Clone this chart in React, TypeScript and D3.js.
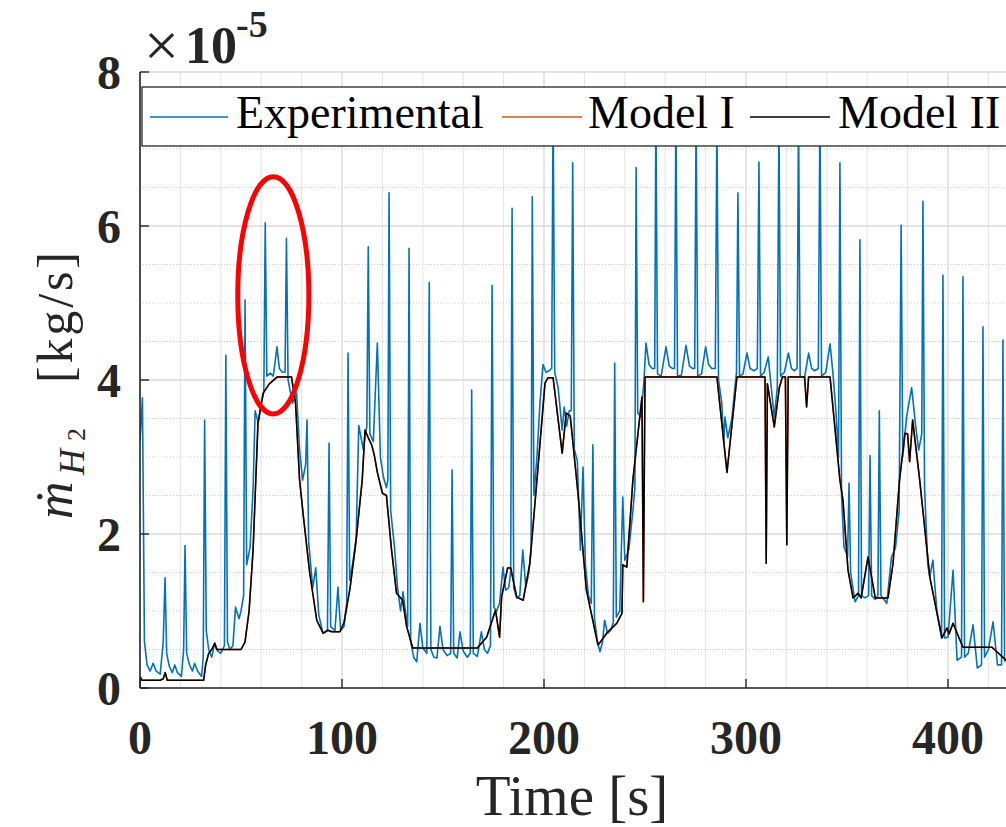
import React from 'react';
import * as d3 from 'd3';

// chart data (values in 1e-5 kg/s)
const xTicks = [0, 100, 200, 300, 400];
const yTicks = [0, 2, 4, 6, 8];
const legendLabels = ['Experimental', 'Model I', 'Model II'];
const seriesColors = ['#0072BD', '#D95319', '#000000'];

const experimental: [number, number][] = [
  [0, 3.2], [1.2, 3.77], [2.2, 0.6], [3.5, 0.3], [5, 0.22], [6.5, 0.32], [8, 0.22], [10, 0.18],
  [11.5, 0.6], [12.4, 1.43], [13.2, 0.45], [14.5, 0.28], [16, 0.2], [17.2, 0.3], [18.5, 0.2], [20.5, 0.15],
  [21.6, 0.5], [22.3, 1.85], [23.1, 0.45], [24.5, 0.3], [26, 0.22], [27, 0.32], [28.5, 0.22], [30.5, 0.15],
  [31.3, 0.4], [32, 3.48], [32.8, 0.75], [34, 0.5], [35.5, 0.4], [37, 0.58], [38.5, 0.48], [40, 0.45],
  [41.8, 0.55], [42.5, 4.32], [43.3, 0.6], [44.5, 0.5], [46, 0.55], [47.3, 1.05], [49, 0.9], [50, 1.0],
  [51.3, 1.2], [52, 5.04], [52.8, 1.6], [54.5, 1.83], [56, 2.6], [57, 3.6], [58.5, 3.44], [60, 3.7],
  [61.3, 3.85], [62, 6.04], [62.8, 4.05], [64.5, 4.09], [66, 4.05], [67.8, 4.43], [69, 4.15], [70.5, 4.1],
  [71.8, 4.1], [72.5, 5.84], [73.3, 4.0], [75.5, 3.7], [77.5, 3.83], [79, 3.1], [80.5, 2.7], [82, 2.9],
  [82.7, 3.48], [83.5, 1.9], [85.5, 1.3], [87, 1.56], [88.5, 0.95], [90.6, 0.71], [92.8, 0.75], [93.6, 3.18],
  [94.4, 0.8], [96.5, 0.74], [98, 1.31], [99.3, 0.75], [101, 0.8], [102.3, 1.1], [103, 4.35], [103.8, 1.4],
  [105.3, 1.62], [107, 1.95], [108.3, 3.41], [110.5, 3.1], [112.3, 3.4], [113, 5.73], [113.8, 3.3], [115.5, 3.2],
  [117.5, 4.48], [119, 3.0], [120.5, 2.74], [122, 2.6], [122.7, 2.7], [123.3, 6.43], [124.1, 2.3], [126, 1.83],
  [127.5, 1.3], [129, 1.0], [130.2, 1.25], [131.5, 0.97], [132.5, 0.8], [133.2, 5.71], [134, 0.6], [135.5, 0.4],
  [137, 0.34], [138.6, 0.84], [140, 0.52], [142, 0.45], [143.2, 5.27], [144, 0.5], [145.5, 0.4], [147, 0.39],
  [148.5, 0.8], [150, 0.5], [152, 0.42], [153.8, 0.45], [154.5, 2.83], [155.3, 0.45], [157, 0.39], [158.4, 0.73],
  [160, 0.48], [162, 0.4], [163.5, 0.45], [164.2, 3.87], [165, 0.45], [167, 0.41], [169, 0.73], [170.5, 0.5],
  [172, 0.45], [173.5, 0.55], [174.3, 5.23], [175.2, 1.05], [176.5, 1.0], [178, 1.1], [179.7, 1.57], [181, 1.27],
  [182.5, 1.3], [183.5, 1.5], [184.2, 6.23], [185, 1.3], [186.5, 1.17], [188, 1.2], [189.5, 1.79], [191, 1.31],
  [192.5, 1.5], [193.6, 1.8], [194.2, 6.38], [195, 2.5], [196.5, 3.0], [198, 3.7], [199.5, 4.2], [201, 4.1],
  [202.5, 4.12], [203.8, 4.15], [204.5, 7.5], [205.3, 4.1], [207, 3.9], [209, 3.35], [210, 3.65], [211.2, 3.4],
  [212.5, 3.6], [213.5, 3.6], [214.2, 6.82], [215, 3.1], [216.5, 2.95], [218, 1.79], [219.3, 2.87], [220.5, 1.6],
  [222, 1.2], [223.4, 1.1], [224.2, 3.16], [225, 0.9], [226.5, 0.6], [227.7, 0.47], [229, 0.6], [230, 0.88],
  [231.5, 0.71], [233, 0.75], [234.3, 0.85], [235, 4.22], [235.8, 0.92], [237.5, 1.0], [239, 2.48], [240, 1.66],
  [242, 1.8], [244, 2.3], [245, 2.6], [245.6, 6.76], [246.4, 3.57], [248, 3.52], [249.5, 4.0], [250.5, 4.48],
  [252, 4.2], [253.5, 4.15], [254.8, 4.15], [255.4, 7.5], [256.2, 4.08], [258, 4.05], [260.4, 4.43], [262, 4.18],
  [263.5, 4.15], [264.6, 4.15], [265.3, 7.45], [266.1, 4.05], [268, 4.06], [270.3, 4.45], [272, 4.18], [273.5, 4.15],
  [274.6, 4.15], [275.3, 7.5], [276.1, 4.05], [278, 4.08], [280, 4.43], [281.5, 4.2], [283, 4.15], [284.8, 4.15],
  [285.6, 7.4], [286.4, 4.0], [288, 3.7], [289, 3.19], [289.6, 3.52], [291, 3.25], [293, 3.5], [294.5, 3.9],
  [295.3, 4.1], [296, 6.43], [296.8, 4.05], [298.5, 4.08], [300.5, 4.35], [302, 4.15], [304, 4.12], [305.6, 4.15],
  [306.4, 6.83], [307.2, 4.05], [309, 4.1], [311, 4.3], [312.5, 3.9], [314, 3.52], [315.5, 3.9], [316.3, 7.4],
  [317.1, 4.05], [319, 4.1], [321, 4.35], [322.5, 4.15], [324, 4.12], [325.3, 4.15], [326, 7.5], [326.8, 4.05],
  [329, 4.03], [331, 4.35], [332.5, 4.15], [334, 4.12], [335.8, 4.15], [336.6, 7.45], [337.4, 4.05], [339.5, 4.1],
  [341.6, 4.47], [343, 4.1], [344.5, 3.6], [345.8, 3.0], [346.5, 6.82], [347.3, 2.5], [348.5, 1.83], [350.3, 1.7],
  [351, 2.66], [351.8, 1.5], [354, 1.12], [355.7, 1.2], [356.4, 5.82], [357.2, 1.2], [359, 1.17], [360.7, 1.2],
  [361.4, 3.02], [362.2, 1.2], [364, 1.15], [365.3, 1.2], [366, 3.6], [366.8, 1.2], [369.7, 1.1], [372, 1.7],
  [374, 1.82], [375.8, 2.3], [376.8, 6.01], [377.6, 3.0], [379.5, 3.52], [382, 3.9], [384, 3.4], [385.5, 3.09],
  [387, 3.3], [387.6, 6.32], [388.4, 2.6], [390, 1.6], [391, 1.44], [392.5, 1.66], [394.5, 1.0], [396.8, 0.65],
  [397.5, 5.36], [398.3, 0.65], [400, 0.66], [402.5, 1.53], [404.5, 0.36], [406.7, 0.4], [407.4, 5.34], [408.2, 0.4],
  [410, 0.45], [412.4, 0.82], [414.5, 0.26], [416.6, 0.3], [417.3, 4.69], [418.1, 0.4], [420, 0.5], [422.3, 0.86],
  [424.5, 0.3], [426.5, 0.3], [427.2, 4.52], [428, 0.35], [430, 0.35], [432, 0.4],
];

const modelII: [number, number][] = [
  [0, 0.15], [1, 0.1], [10, 0.1], [11.5, 0.12], [12.5, 0.2], [13.5, 0.1], [31.5, 0.1], [32.5, 0.3],
  [34, 0.45], [35.5, 0.5], [37, 0.58], [38, 0.5], [50, 0.5], [52, 0.6], [54, 1.0], [56, 1.8],
  [58.4, 3.44], [61, 3.83], [64, 3.95], [68, 4.04], [75, 4.04], [77, 3.7], [79, 2.7], [81, 2.2],
  [84, 1.5], [87.5, 0.88], [90.7, 0.71], [93, 0.75], [95, 0.73], [99, 0.73], [101, 0.85], [104, 1.3],
  [107, 1.92], [110, 2.7], [111.4, 3.35], [113, 3.25], [114.8, 3.15], [116, 3.02], [117.5, 2.8], [120, 2.53],
  [122, 2.5], [124.5, 1.8], [127, 1.23], [130, 1.14], [132, 0.8], [135, 0.52], [167, 0.52], [171.6, 0.66],
  [176, 1.01], [178, 0.66], [179, 1.18], [182, 1.56], [183.5, 1.56], [186.5, 1.18], [189.7, 1.14], [193, 1.62],
  [196.5, 2.7], [200.5, 3.96], [202, 4.03], [204.5, 4.03], [209, 3.05], [211, 3.57], [213, 3.53], [217, 2.48],
  [221, 1.27], [226.7, 0.56], [228, 0.6], [231, 0.71], [236, 0.84], [238.6, 0.97], [239, 1.6], [241, 1.57],
  [244, 2.7], [248.5, 3.78], [249.2, 1.12], [250, 4.04], [285.6, 4.04], [290.6, 2.8], [295.5, 4.04], [309.4, 4.04],
  [310, 1.62], [310.6, 3.95], [314, 3.39], [316.5, 3.9], [318, 4.04], [319.5, 4.04], [320.2, 1.86], [320.9, 4.04],
  [329, 4.04], [330, 3.65], [331, 4.04], [341.6, 4.04], [346.5, 2.7], [348, 2.44], [350.5, 1.53], [353, 1.17],
  [355.5, 1.23], [357, 1.17], [360.4, 1.7], [364, 1.17], [370.3, 1.17], [372.8, 1.62], [376, 2.7], [378.7, 3.31],
  [380, 3.3], [381, 2.94], [382.5, 3.48], [386, 2.7], [391, 1.44], [397, 0.65], [399.5, 0.78], [400.5, 0.7],
  [402.5, 0.84], [407.4, 0.53], [421.8, 0.53], [428.7, 0.36], [432, 0.3],
];

// Model I sits exactly under Model II in the figure
const modelI = modelII;

const serif = "'Liberation Serif', 'Times New Roman', serif";

export default function App() {
  const x = d3.scaleLinear().domain([0, 400]).range([140, 948]);
  const y = d3.scaleLinear().domain([0, 8]).range([688, 72]);
  const line = d3.line<[number, number]>().x(d => x(d[0])).y(d => y(d[1]));

  const xEnd = 440;
  const xMinor = d3.range(0, xEnd + 1, 20);
  const yMinor = d3.range(0, 8.01, 0.5);
  const left = x(0), right = x(xEnd), top = y(8), bottom = y(0);

  const legendY = 117;
  const legendItems = [
    { x1: 150, x2: 228, tx: 236 },
    { x1: 502, x2: 582, tx: 588 },
    { x1: 750, x2: 830, tx: 838 },
  ];

  return (
    <svg width={1006} height={827} style={{ position: 'absolute', left: 0, top: 0, background: '#fff' }}>
      <defs>
        <clipPath id="plot">
          <rect x={left} y={top} width={right - left} height={bottom - top} />
        </clipPath>
      </defs>
      <rect width={1006} height={827} fill="#fff" />

      {/* minor grid */}
      <g>
        {xMinor.filter(t => t % 100 !== 0).map(t => (
          <line key={'xm' + t} x1={x(t)} x2={x(t)} y1={top} y2={bottom} stroke="#e4e4e4" strokeWidth={1} />
        ))}
        {yMinor.filter(v => v % 2 !== 0).map(v => (
          <line key={'ym' + v} x1={left} x2={right} y1={y(v)} y2={y(v)} stroke="#c8c8c8" strokeWidth={1} strokeDasharray="1,2" />
        ))}
      </g>
      {/* major grid */}
      <g>
        {xTicks.map(t => (
          <line key={'xg' + t} x1={x(t)} x2={x(t)} y1={top} y2={bottom} stroke="#d9d9d9" strokeWidth={1.3} />
        ))}
        {yTicks.map(v => (
          <line key={'yg' + v} x1={left} x2={right} y1={y(v)} y2={y(v)} stroke="#d9d9d9" strokeWidth={1.3} />
        ))}
      </g>

      <g clipPath="url(#plot)" fill="none" strokeLinejoin="round">
        <path d={line(experimental) || ''} stroke={seriesColors[0]} strokeWidth={1.6} />
        <path d={line(modelI) || ''} stroke={seriesColors[1]} strokeWidth={1.6} />
        <path d={line(modelII) || ''} stroke={seriesColors[2]} strokeWidth={1.5} />
      </g>

      {/* axes */}
      <line x1={left} x2={left} y1={top} y2={bottom} stroke="#262626" strokeWidth={1.6} />
      <line x1={left} x2={right} y1={bottom} y2={bottom} stroke="#262626" strokeWidth={1.6} />
      {yTicks.map(v => (
        <line key={'yt' + v} x1={left} x2={left + 9} y1={y(v)} y2={y(v)} stroke="#262626" strokeWidth={1.4} />
      ))}
      {xTicks.map(t => (
        <line key={'xt' + t} x1={x(t)} x2={x(t)} y1={bottom} y2={bottom - 9} stroke="#262626" strokeWidth={1.4} />
      ))}

      {/* tick labels */}
      {yTicks.map(v => (
        <text key={'yl' + v} x={121} y={y(v) + 17} textAnchor="end" fontFamily={serif} fontWeight="bold" fontSize={48} fill="#262626">
          {v}
        </text>
      ))}
      {xTicks.map(t => (
        <text key={'xl' + t} x={x(t)} y={754} textAnchor="middle" fontFamily={serif} fontWeight="bold" fontSize={48} fill="#262626">
          {t}
        </text>
      ))}

      {/* exponent */}
      <g fontFamily={serif} fill="#262626">
        <text x={144} y={66} fontSize={62}>×</text>
        <text x={185} y={63} fontSize={52} fontWeight="bold">10</text>
        <text x={236} y={37} fontSize={38} fontWeight="bold">-5</text>
      </g>

      {/* axis labels */}
      <text x={572} y={815} textAnchor="middle" fontFamily={serif} fontSize={57} fill="#262626">Time [s]</text>
      <g fontFamily={serif} fill="#262626">
        <text transform="translate(72,519) rotate(-90)" fontSize={52} fontStyle="italic">ṁ</text>
        <text transform="translate(84,475) rotate(-90)" fontSize={36} fontStyle="italic">H</text>
        <text transform="translate(85,441) rotate(-90)" fontSize={26}>2</text>
        <text transform="translate(72,383) rotate(-90)" fontSize={50} textLength={131} lengthAdjust="spacing">[kg/s]</text>
      </g>

      {/* legend */}
      <rect x={142} y={87} width={1006} height={59} fill="#fff" stroke="#262626" strokeWidth={1.3} />
      {legendItems.map((it, i) => (
        <g key={legendLabels[i]}>
          <line x1={it.x1} x2={it.x2} y1={legendY} y2={legendY} stroke={seriesColors[i]} strokeWidth={1.6} />
          <text x={it.tx} y={128} fontFamily={serif} fontSize={46} fill="#000">
            {legendLabels[i]}
          </text>
        </g>
      ))}

      {/* highlight ring */}
      <ellipse cx={x(66)} cy={y(5.1)} rx={x(17.6) - x(0)} ry={y(0) - y(1.54)} fill="none" stroke="#ff0000" strokeWidth={5} />
    </svg>
  );
}
